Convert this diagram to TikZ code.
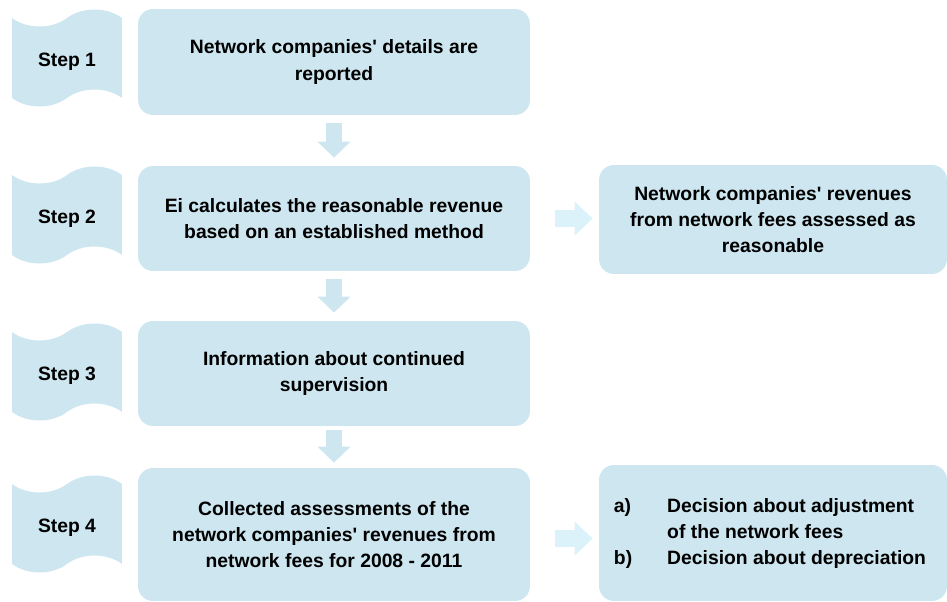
\documentclass[tikz,border=0pt]{standalone}
\usepackage{fontspec}
\setmainfont{Liberation Sans}
\usetikzlibrary{arrows.meta,shapes.symbols}
\definecolor{boxblue}{RGB}{205,230,240}
\definecolor{arrowblue}{RGB}{219,242,250}

\begin{document}
\begin{tikzpicture}[x=0.02cm, y=-0.02cm,
    txt/.style={font=\bfseries\fontsize{11}{14.8}\selectfont},
    box/.style={rectangle, fill=boxblue, rounded corners=0.3cm, minimum width=7.84cm, align=center, txt},
    result/.style={box, minimum width=6.96cm},
    stepbox/.style={tape, fill=boxblue, minimum width=2.2cm, minimum height=1.94cm, tape bend height=0.34cm, text height=10pt, text depth=0pt, txt},
    down/.style={line width=0.32cm, draw=boxblue, -{Triangle[width=0.64cm, length=0.32cm]}, shorten <=0.16cm, shorten >=0.16cm},
    sidearrow/.style={line width=0.34cm, draw=arrowblue, -{Triangle[width=0.66cm, length=0.36cm]}, shorten <=0.5cm, shorten >=0.12cm}
]
\useasboundingbox (0,0) rectangle (947,602);

% Steps
\node[stepbox] (s1) at (67,58) {Step 1};
\node[stepbox] (s2) at (67,215) {Step 2};
\node[stepbox] (s3) at (67,372) {Step 3};
\node[stepbox] (s4) at (67,524) {Step 4};

% Nodes
\node[box, minimum height=2.12cm] (b1) at (334,62) {Network companies\textquotesingle{} details are\\reported};
\node[box, minimum height=2.1cm] (b2) at (334,218.5) {Ei calculates the reasonable revenue\\based on an established method};
\node[box, minimum height=2.1cm] (b3) at (334,373.5) {Information about continued\\supervision};
\node[box, minimum height=2.66cm] (b4) at (334,534.5) {Collected assessments of the\\network companies\textquotesingle{} revenues from\\network fees for 2008 - 2011};
\node[result, minimum height=2.18cm] (r2) at (773,219.5) {Network companies\textquotesingle{} revenues\\from network fees assessed as\\reasonable};
\node[result, minimum height=2.72cm] (r4) at (773,533) {%
  \begin{tabular}{@{}l@{\hspace{0.7cm}}l@{}}
  a) & Decision about adjustment\\
     & of the network fees\\
  b) & Decision about depreciation
  \end{tabular}\hspace{0.12cm}};

% Arrows
\draw[down] (b1) -- (b2);
\draw[down] (b2) -- (b3);
\draw[down, shorten <=0.08cm, shorten >=0.1cm] (b3) -- (b4);
\draw[sidearrow] (b2.east) -- (b2.east -| r2.west);
\draw[sidearrow] ([yshift=-0.08cm]b4.east) -- ([yshift=-0.08cm]b4.east -| r4.west);

\end{tikzpicture}
\end{document}
